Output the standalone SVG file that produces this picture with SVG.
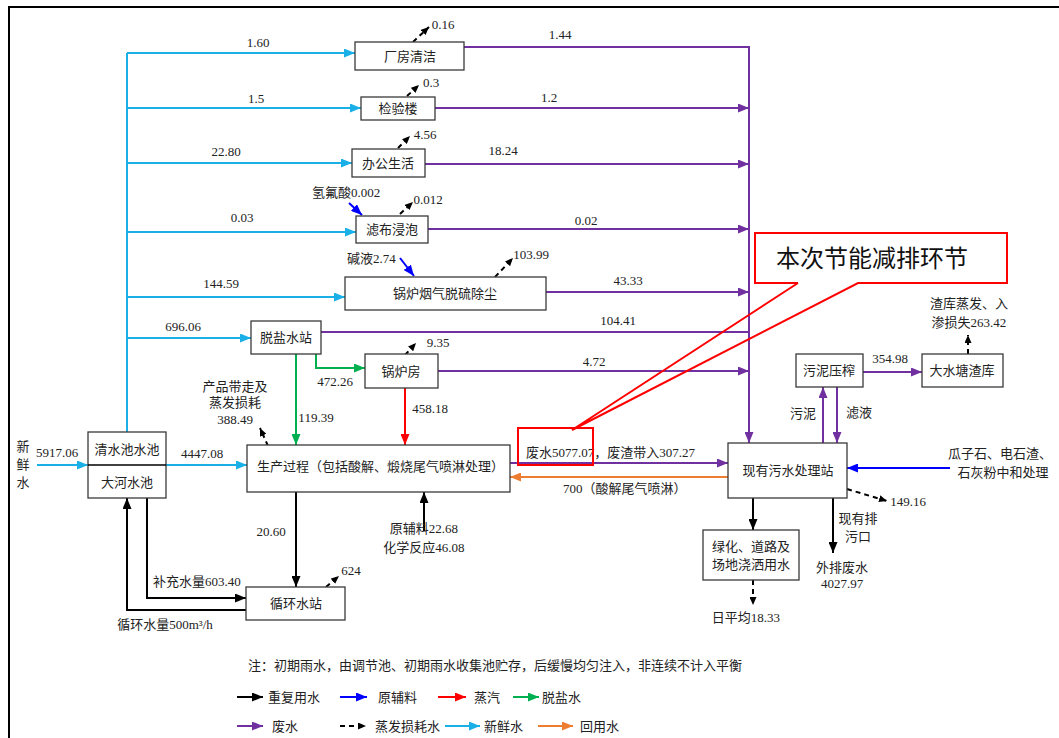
<svg xmlns="http://www.w3.org/2000/svg" width="1059" height="738" viewBox="0 0 1059 738">
<style>
.box{fill:#fff;stroke:#3a3a3a;stroke-width:1.3}
.t{font-family:"Liberation Serif","Noto Sans CJK SC",serif;font-size:13px;fill:#222}
.c{text-anchor:middle}
.cy{fill:none;stroke:#1AAFE6;stroke-width:2}
.pu{fill:none;stroke:#7030A0;stroke-width:2}
.bk{fill:none;stroke:#000;stroke-width:2}
.bd{fill:none;stroke:#000;stroke-width:2;stroke-dasharray:5,4}
.bl{fill:none;stroke:#0000FF;stroke-width:2}
.rd{fill:none;stroke:#FF0000;stroke-width:2}
.gn{fill:none;stroke:#00B050;stroke-width:2}
.or{fill:none;stroke:#ED7D31;stroke-width:2}
</style>
<defs>
<marker id="mc" viewBox="0 0 11 9" refX="11" refY="4.5" markerWidth="11" markerHeight="9" markerUnits="userSpaceOnUse" orient="auto"><path d="M0,0L11,4.5L0,9z" fill="#1AAFE6"/></marker>
<marker id="mp" viewBox="0 0 11 9" refX="11" refY="4.5" markerWidth="11" markerHeight="9" markerUnits="userSpaceOnUse" orient="auto"><path d="M0,0L11,4.5L0,9z" fill="#7030A0"/></marker>
<marker id="mk" viewBox="0 0 11 9" refX="11" refY="4.5" markerWidth="11" markerHeight="9" markerUnits="userSpaceOnUse" orient="auto"><path d="M0,0L11,4.5L0,9z" fill="#000"/></marker>
<marker id="md" viewBox="0 0 8 7" refX="8" refY="3.5" markerWidth="8" markerHeight="7" markerUnits="userSpaceOnUse" orient="auto"><path d="M0,0L8,3.5L0,7z" fill="#000"/></marker>
<marker id="mb" viewBox="0 0 11 9" refX="11" refY="4.5" markerWidth="11" markerHeight="9" markerUnits="userSpaceOnUse" orient="auto"><path d="M0,0L11,4.5L0,9z" fill="#0000FF"/></marker>
<marker id="mr" viewBox="0 0 11 9" refX="11" refY="4.5" markerWidth="11" markerHeight="9" markerUnits="userSpaceOnUse" orient="auto"><path d="M0,0L11,4.5L0,9z" fill="#FF0000"/></marker>
<marker id="mg" viewBox="0 0 11 9" refX="11" refY="4.5" markerWidth="11" markerHeight="9" markerUnits="userSpaceOnUse" orient="auto"><path d="M0,0L11,4.5L0,9z" fill="#00B050"/></marker>
<marker id="mo" viewBox="0 0 11 9" refX="11" refY="4.5" markerWidth="11" markerHeight="9" markerUnits="userSpaceOnUse" orient="auto"><path d="M0,0L11,4.5L0,9z" fill="#ED7D31"/></marker>
</defs>
<rect width="1059" height="738" fill="#fff"/>
<path d="M9,738V7H1059" fill="none" stroke="#000" stroke-width="2"/>

<g id="connectors">
<!-- fresh water -->
<path class="cy" d="M127,432V53"/>
<path class="cy" d="M127,53H355" marker-end="url(#mc)"/>
<path class="cy" d="M127,108H361" marker-end="url(#mc)"/>
<path class="cy" d="M127,163H352" marker-end="url(#mc)"/>
<path class="cy" d="M127,232H356" marker-end="url(#mc)"/>
<path class="cy" d="M127,297H345" marker-end="url(#mc)"/>
<path class="cy" d="M127,338H251" marker-end="url(#mc)"/>
<path class="cy" d="M37,465H88" marker-end="url(#mc)"/>
<path class="cy" d="M166,465H247" marker-end="url(#mc)"/>
<!-- wastewater -->
<path class="pu" d="M464,47H749V443" marker-end="url(#mp)"/>
<path class="pu" d="M435,108H749" marker-end="url(#mp)"/>
<path class="pu" d="M425,164H749" marker-end="url(#mp)"/>
<path class="pu" d="M428,229H749" marker-end="url(#mp)"/>
<path class="pu" d="M546,292H749" marker-end="url(#mp)"/>
<path class="pu" d="M321,332H749"/>
<path class="pu" d="M438,371H749" marker-end="url(#mp)"/>
<path class="pu" d="M510,463H728" marker-end="url(#mp)"/>
<path class="pu" d="M823,443V387" marker-end="url(#mp)"/>
<path class="pu" d="M837,387V443" marker-end="url(#mp)"/>
<path class="pu" d="M863,372H922" marker-end="url(#mp)"/>
<!-- reuse -->
<path class="or" d="M728,477H510" marker-end="url(#mo)"/>
<!-- desalinated water -->
<path class="gn" d="M296,354V445" marker-end="url(#mg)"/>
<path class="gn" d="M316,354V368H365" marker-end="url(#mg)"/>
<!-- steam -->
<path class="rd" d="M405,388V445" marker-end="url(#mr)"/>
<!-- raw materials -->
<path class="bl" d="M349,203L362,215" marker-end="url(#mb)"/>
<path class="bl" d="M400,258L414,276" marker-end="url(#mb)"/>
<path class="bl" d="M950,468H847" marker-end="url(#mb)"/>
<!-- reused water -->
<path class="bk" d="M296,492V587" marker-end="url(#mk)"/>
<path class="bk" d="M147,498V598H246" marker-end="url(#mk)"/>
<path class="bk" d="M246,610H127V498" marker-end="url(#mk)"/>
<path class="bk" d="M424,531V492" marker-end="url(#mk)"/>
<path class="bk" d="M753,498V530" marker-end="url(#mk)"/>
<path class="bk" d="M833,498V553" marker-end="url(#mk)"/>
<!-- evaporation -->
<path class="bd" d="M413,42L429,27" marker-end="url(#md)"/>
<path class="bd" d="M407,96L419,85" marker-end="url(#md)"/>
<path class="bd" d="M398,148L410,136" marker-end="url(#md)"/>
<path class="bd" d="M400,214L413,202" marker-end="url(#md)"/>
<path class="bd" d="M495,277L513,258" marker-end="url(#md)"/>
<path class="bd" d="M405,355L416,343" marker-end="url(#md)"/>
<path class="bd" d="M268,446L260,428" marker-end="url(#md)"/>
<path class="bd" d="M326,587L339,576" marker-end="url(#md)"/>
<path class="bd" d="M968,354V335" marker-end="url(#md)"/>
<path class="bd" d="M753,580V605" marker-end="url(#md)"/>
<path class="bd" d="M847,489L887,501" marker-end="url(#md)"/>
</g>

<g id="n-pool"><rect class="box" x="88" y="432" width="78" height="66"/><line x1="88" y1="465" x2="166" y2="465" stroke="#000" stroke-width="1.3"/><text class="t c" x="127" y="454">清水池水池</text><text class="t c" x="127" y="487">大河水池</text></g>
<g id="n-clean"><rect class="box" x="355" y="42" width="109" height="28"/><text class="t c" x="410" y="61">厂房清洁</text></g>
<g id="n-lab"><rect class="box" x="361" y="97" width="74" height="23"/><text class="t c" x="398" y="113">检验楼</text></g>
<g id="n-office"><rect class="box" x="352" y="149" width="73" height="28"/><text class="t c" x="388" y="168">办公生活</text></g>
<g id="n-filter"><rect class="box" x="356" y="216" width="72" height="27"/><text class="t c" x="392" y="234">滤布浸泡</text></g>
<g id="n-fgd"><rect class="box" x="345" y="277" width="201" height="33"/><text class="t c" x="445" y="298">锅炉烟气脱硫除尘</text></g>
<g id="n-desal"><rect class="box" x="251" y="321" width="70" height="33"/><text class="t c" x="286" y="342">脱盐水站</text></g>
<g id="n-boiler"><rect class="box" x="365" y="354" width="73" height="34"/><text class="t c" x="401" y="376">锅炉房</text></g>
<g id="n-prod"><rect class="box" x="247" y="445" width="263" height="47"/><text class="t" x="257" y="471">生产过程（包括酸解、煅烧尾气喷淋处理）</text></g>
<g id="n-circ"><rect class="box" x="246" y="587" width="99" height="33"/><text class="t c" x="296" y="608">循环水站</text></g>
<g id="n-wwtp"><rect class="box" x="728" y="443" width="119" height="55"/><text class="t c" x="788" y="475">现有污水处理站</text></g>
<g id="n-sludge"><rect class="box" x="796" y="354" width="67" height="33"/><text class="t c" x="829" y="375">污泥压榨</text></g>
<g id="n-slag"><rect class="box" x="922" y="354" width="81" height="33"/><text class="t c" x="962" y="375">大水塘渣库</text></g>
<g id="n-green"><rect class="box" x="703" y="530" width="96" height="50"/><text class="t c" x="751" y="551">绿化、道路及</text><text class="t c" x="751" y="569">场地浇洒用水</text></g>

<g id="labels">
<text class="t c" x="258" y="47">1.60</text>
<text class="t c" x="256" y="103">1.5</text>
<text class="t c" x="226" y="156">22.80</text>
<text class="t c" x="242" y="222">0.03</text>
<text class="t c" x="221" y="288">144.59</text>
<text class="t c" x="183" y="331">696.06</text>
<text class="t c" x="57" y="457">5917.06</text>
<text class="t c" x="202" y="458">4447.08</text>
<text class="t c" x="23" y="451">新</text>
<text class="t c" x="23" y="469">鲜</text>
<text class="t c" x="23" y="487">水</text>
<text class="t c" x="560" y="39">1.44</text>
<text class="t c" x="549" y="102">1.2</text>
<text class="t c" x="503" y="155">18.24</text>
<text class="t c" x="586" y="225">0.02</text>
<text class="t c" x="443" y="29">0.16</text>
<text class="t c" x="431" y="87">0.3</text>
<text class="t c" x="425" y="139">4.56</text>
<text class="t c" x="428" y="204">0.012</text>
<text class="t" x="312" y="197">氢氟酸0.002</text>
<text class="t" x="347" y="263">碱液2.74</text>
<text class="t c" x="531" y="259">103.99</text>
<text class="t c" x="628" y="285">43.33</text>
<text class="t c" x="618" y="325">104.41</text>
<text class="t c" x="438" y="347">9.35</text>
<text class="t c" x="594" y="366">4.72</text>
<text class="t c" x="335" y="386">472.26</text>
<text class="t c" x="316" y="422">119.39</text>
<text class="t c" x="430" y="413">458.18</text>
<text class="t c" x="235" y="391">产品带走及</text>
<text class="t c" x="235" y="407">蒸发损耗</text>
<text class="t c" x="235" y="424">388.49</text>
<text class="t" x="526" y="457">废水5077.07，废渣带入307.27</text>
<text class="t" x="563" y="493">700（酸解尾气喷淋）</text>
<text class="t c" x="424" y="533">原辅料22.68</text>
<text class="t c" x="424" y="552">化学反应46.08</text>
<text class="t c" x="271" y="536">20.60</text>
<text class="t c" x="351" y="575">624</text>
<text class="t c" x="197" y="586">补充水量603.40</text>
<text class="t c" x="165" y="629">循环水量500m³/h</text>
<text class="t c" x="890" y="363">354.98</text>
<text class="t c" x="969" y="308">渣库蒸发、入</text>
<text class="t c" x="969" y="327">渗损失263.42</text>
<text class="t c" x="803" y="418">污泥</text>
<text class="t c" x="859" y="417">滤液</text>
<text class="t c" x="1000" y="458">瓜子石、电石渣、</text>
<text class="t c" x="1003" y="477">石灰粉中和处理</text>
<text class="t c" x="908" y="506">149.16</text>
<text class="t c" x="858" y="523">现有排</text>
<text class="t c" x="858" y="541">污口</text>
<text class="t c" x="842" y="572">外排废水</text>
<text class="t c" x="842" y="588">4027.97</text>
<text class="t c" x="746" y="622">日平均18.33</text>
</g>

<g id="callout">
<rect x="755" y="233" width="252" height="50" fill="#fff"/>
<path d="M798,283H755V233H1007V283H858L572,430L798,283" fill="none" stroke="#FF0000" stroke-width="2"/>
<text x="776" y="267" style="font-family:'Noto Sans CJK SC',sans-serif;font-size:24px;fill:#111">本次节能减排环节</text>
<rect x="518" y="428" width="75" height="37" fill="none" stroke="#FF0000" stroke-width="2"/>
</g>

<g id="legend">
<text class="t" x="248" y="670">注：初期雨水，由调节池、初期雨水收集池贮存，后缓慢均匀注入，非连续不计入平衡</text>
<path class="bk" d="M237,697H263" marker-end="url(#mk)"/><text class="t" x="268" y="702">重复用水</text>
<path class="bl" d="M340,697H367" marker-end="url(#mb)"/><text class="t" x="378" y="702">原辅料</text>
<path class="rd" d="M438,697H466" marker-end="url(#mr)"/><text class="t" x="474" y="702">蒸汽</text>
<path class="gn" d="M513,697H539" marker-end="url(#mg)"/><text class="t" x="542" y="702">脱盐水</text>
<path class="pu" d="M237,726H263" marker-end="url(#mp)"/><text class="t" x="272" y="731">废水</text>
<path class="bd" d="M340,726H366" marker-end="url(#md)"/><text class="t" x="375" y="731">蒸发损耗水</text>
<path class="cy" d="M445,726H480" marker-end="url(#mc)"/><text class="t" x="484" y="731">新鲜水</text>
<path class="or" d="M538,726H573" marker-end="url(#mo)"/><text class="t" x="580" y="731">回用水</text>
</g>
</svg>
